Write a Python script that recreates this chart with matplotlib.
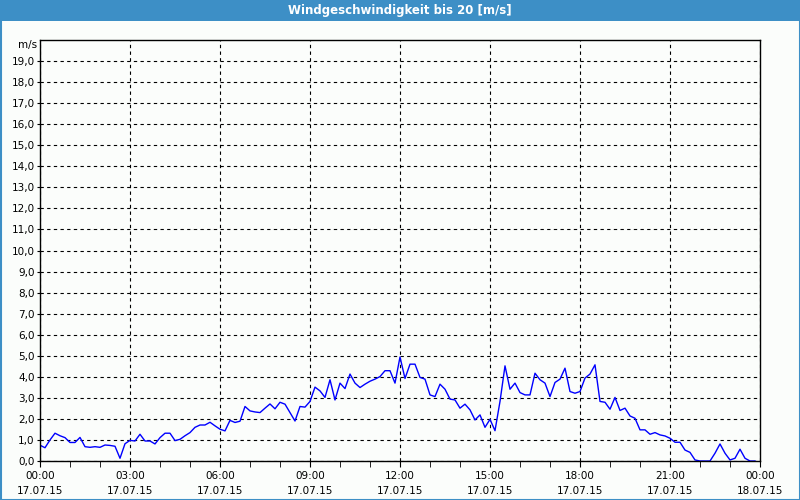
#!/usr/bin/env python3
# -*- coding: utf-8 -*-
"""Windgeschwindigkeit 17.07.15, 10-Minuten-Werte."""

import matplotlib

matplotlib.use("Agg")
import matplotlib.pyplot as plt
from matplotlib.patches import Rectangle
from matplotlib.ticker import FuncFormatter, MultipleLocator

TITLE = "Windgeschwindigkeit bis 20 [m/s]"
UNIT = "m/s"

# minutes after 17.07.15 00:00, one reading every 10 minutes
MINUTES = list(range(0, 1440, 10))
WIND = [
    0.75, 0.63, 1.00, 1.32, 1.20, 1.11, 0.88, 0.88, 1.12, 0.68, 0.65, 0.68,
    0.65, 0.76, 0.74, 0.70, 0.13, 0.82, 0.98, 0.95, 1.27, 0.95, 0.95, 0.81,
    1.11, 1.32, 1.32, 0.97, 1.03, 1.20, 1.35, 1.60, 1.71, 1.71, 1.84, 1.67,
    1.51, 1.43, 1.93, 1.83, 1.89, 2.59, 2.38, 2.33, 2.30, 2.51, 2.71, 2.48,
    2.79, 2.70, 2.30, 1.90, 2.59, 2.56, 2.83, 3.51, 3.33, 3.02, 3.86, 2.90,
    3.70, 3.44, 4.13, 3.70, 3.49, 3.65, 3.79, 3.89, 4.01, 4.29, 4.29, 3.70,
    4.94, 3.92, 4.60, 4.60, 3.97, 3.89, 3.14, 3.06, 3.65, 3.41, 2.94, 2.90,
    2.51, 2.70, 2.43, 1.95, 2.19, 1.60, 1.98, 1.44, 2.83, 4.52, 3.41, 3.70,
    3.25, 3.14, 3.14, 4.17, 3.86, 3.70, 3.06, 3.73, 3.89, 4.41, 3.30, 3.22,
    3.30, 3.94, 4.13, 4.57, 2.83, 2.79, 2.46, 3.02, 2.40, 2.51, 2.14, 2.03,
    1.48, 1.48, 1.27, 1.35, 1.24, 1.19, 1.08, 0.89, 0.89, 0.52, 0.41, 0.05,
    0.00, 0.00, 0.00, 0.37, 0.81, 0.37, 0.05, 0.13, 0.56, 0.13, 0.00, 0.00,
]

X_TICKS = list(range(0, 1441, 180))
X_LABELS = [
    "00:00\n17.07.15", "03:00\n17.07.15", "06:00\n17.07.15", "09:00\n17.07.15",
    "12:00\n17.07.15", "15:00\n17.07.15", "18:00\n17.07.15", "21:00\n17.07.15",
    "00:00\n18.07.15",
]

BG = "#fbfdfb"
BAR = "#3d8fc6"

plt.rcParams["font.family"] = ["DejaVu Sans"]

fig = plt.figure(figsize=(8, 5), dpi=100, facecolor=BG)

# title bar
fig.patches.append(Rectangle((0, 1 - 21 / 500), 1, 21 / 500, transform=fig.transFigure,
                             facecolor=BAR, edgecolor="none", zorder=0))
fig.patches.append(Rectangle((0.5 / 800, 0.5 / 500), 1 - 1 / 800, 1 - 1 / 500,
                             transform=fig.transFigure, facecolor="none",
                             edgecolor=BAR, linewidth=1.5, zorder=1))
fig.text(0.5, 1 - 10.5 / 500, TITLE, color="white", fontsize=8.5, fontweight="bold",
         ha="center", va="center")

ax = fig.add_axes([40 / 800, 1 - 461 / 500, 720 / 800, 421 / 500])
ax.set_facecolor(BG)
ax.plot(MINUTES, WIND, color="#0000ff", linewidth=1.0, zorder=2)

ax.set_xlim(0, 1440)
ax.set_ylim(0, 20)

ax.set_xticks(X_TICKS)
ax.set_xticklabels(X_LABELS, fontsize=7.5, linespacing=1.7)
ax.xaxis.set_minor_locator(MultipleLocator(60))
ax.set_yticks(range(0, 20))
ax.yaxis.set_major_formatter(FuncFormatter(lambda v, _: f"{v:.1f}".replace(".", ",")))
ax.tick_params(axis="y", labelsize=7.5, length=2, pad=2)
ax.tick_params(axis="x", which="major", length=4, pad=3)
ax.tick_params(axis="x", which="minor", length=4)

ax.grid(True, which="major", color="black", linestyle=(0, (3, 3)), linewidth=0.8)
ax.set_axisbelow(True)
for spine in ax.spines.values():
    spine.set_color("black")
    spine.set_linewidth(1.0)
    spine.set_zorder(3)

ax.text(-0.004, 0.987, UNIT, transform=ax.transAxes, ha="right", va="center", fontsize=7.5)

fig.savefig("out.png", dpi=100, facecolor=BG)
